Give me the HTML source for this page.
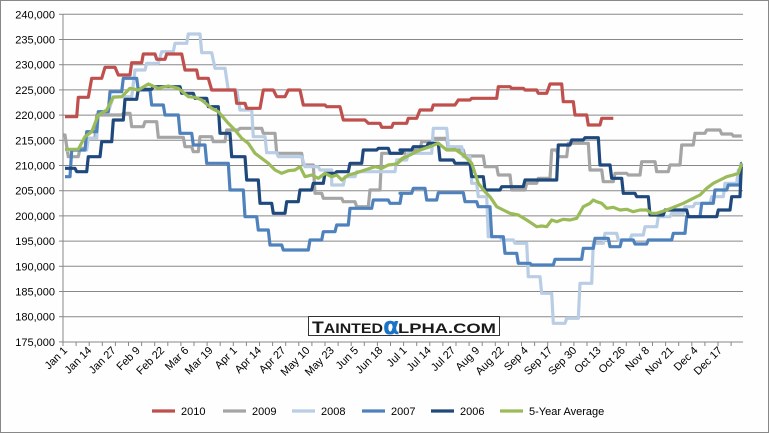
<!DOCTYPE html>
<html><head><meta charset="utf-8"><style>
body{margin:0;background:#fff;}
svg{display:block;font-family:"Liberation Sans",sans-serif;}
</style></head><body>
<svg id="s" width="769" height="433" xmlns="http://www.w3.org/2000/svg">
<rect x="0.5" y="0.5" width="768" height="432" fill="#fdfefd" stroke="#888"/>
<g id="grid"></g>
<g id="ser" fill="none" stroke-width="3.2" stroke-linejoin="round"></g>
<rect x="308.5" y="316.5" width="191" height="19" fill="#fff" stroke="#333"/>
<text x="312" y="333" font-size="14" font-weight="bold" fill="#1a1a1a" textLength="71" lengthAdjust="spacingAndGlyphs"><tspan font-size="17">T</tspan>AINTED</text>
<text x="383" y="334" font-size="24" font-weight="bold" fill="#1a73c8" font-family="DejaVu Sans,sans-serif">α</text>
<text x="398" y="333" font-size="14" font-weight="bold" fill="#1a1a1a" textLength="98" lengthAdjust="spacingAndGlyphs">LPHA.COM</text>
<g id="xl" font-size="11" fill="#000"></g>
<g font-size="11" fill="#000">
<line x1="152" y1="411" x2="175" y2="411" stroke="#c0504d" stroke-width="3.2"/><text x="181" y="415">2010</text>
<line x1="223" y1="411" x2="246" y2="411" stroke="#a5a5a5" stroke-width="3.2"/><text x="252" y="415">2009</text>
<line x1="292" y1="411" x2="315" y2="411" stroke="#b9cde5" stroke-width="3.2"/><text x="321" y="415">2008</text>
<line x1="362" y1="411" x2="385" y2="411" stroke="#4f81bd" stroke-width="3.2"/><text x="391" y="415">2007</text>
<line x1="431" y1="411" x2="454" y2="411" stroke="#1f497d" stroke-width="3.2"/><text x="460" y="415">2006</text>
<line x1="500" y1="411" x2="523" y2="411" stroke="#9bbb59" stroke-width="3.2"/><text x="529" y="415">5-Year Average</text>
</g>
</svg>
<script>
var NS="http://www.w3.org/2000/svg";
function el(t,a,p,txt){var e=document.createElementNS(NS,t);for(var k in a)e.setAttribute(k,a[k]);if(txt)e.textContent=txt;p.appendChild(e);return e;}
var g=document.getElementById('grid');
for(var i=0;i<=13;i++){var y=14.3+i*25.2;var v=240000-i*5000;
 if(i<13)el('line',{x1:63,x2:743,y1:y,y2:y,stroke:'#888','stroke-width':1},g);
 el('line',{x1:59,x2:63,y1:y,y2:y,stroke:'#888'},g);
 el('text',{x:55,y:y+4,'text-anchor':'end','font-size':11},g,v.toLocaleString('en-US'));}
el('line',{x1:63,x2:63,y1:14,y2:342,stroke:'#888'},g);
el('line',{x1:63,x2:743,y1:342,y2:342,stroke:'#888'},g);
for(var x=63;x<=744;x+=13.1)el('line',{x1:x,x2:x,y1:342,y2:346,stroke:'#888'},g);
var labs=["Jan 1","Jan 14","Jan 27","Feb 9","Feb 22","Mar 6","Mar 19","Apr 1","Apr 14","Apr 27","May 10","May 23","Jun 5","Jun 18","Jul 1","Jul 14","Jul 27","Aug 9","Aug 22","Sep 4","Sep 17","Sep 30","Oct 13","Oct 26","Nov 8","Nov 21","Dec 4","Dec 17"];
var xl=document.getElementById('xl');
labs.forEach(function(l,i){var x=68+i*24.25;el('text',{x:x,y:351,'text-anchor':'end',transform:'rotate(-45 '+x+' 351)'},xl,l);});
function conv(zx,zy,z2){return [(55+(zx+(z2?1035:0))/3).toFixed(1),(10+zy/3).toFixed(1)];}
function steps(a,b){var pts=[];function add(arr,z2){arr.forEach(function(s){var p1=conv(s[0],s[2],z2),p2=conv(s[1],s[2],z2);pts.push(p1.join(','));pts.push(p2.join(','));});}add(a,false);add(b,true);return pts.join(' ');}
function smooth(a,b){var pts=[];a.forEach(function(p){pts.push(conv(p[0],p[1],false).join(','));});b.forEach(function(p){pts.push(conv(p[0],p[1],true).join(','));});return pts.join(' ');}
var S=document.getElementById('ser');
function line(pts,c){el('polyline',{points:pts,stroke:c},S);}
line(steps([[25,30,375],[40,70,440],[75,95,415],[100,120,385],[125,200,315],[205,225,310],[230,265,350],[270,305,335],[310,385,382],[390,410,410],[415,430,425],[435,470,380],[475,510,395],[515,550,360],[555,620,355],[625,660,370],[665,740,430],[745,775,465],[780,800,550],[805,860,565],[865,900,575],[905,940,590],[945,975,540],[980,1050,430]],
[[0,60,420],[65,95,395],[100,140,385],[145,190,420],[195,250,438],[255,290,470],[295,330,495],[335,375,540],[380,410,520],[415,450,505],[455,470,420],[475,500,440],[505,540,400],[545,565,400],[570,605,480],[610,640,515],[645,680,490],[685,720,495],[725,765,455],[770,805,485],[810,840,465],[845,880,405],[885,915,370],[920,960,360],[965,995,372],[1000,1025,378]]),'#a5a5a5');
line(steps([[30,95,420],[100,125,385],[130,160,305],[175,230,260],[240,270,180],[275,310,160],[320,355,125],[360,395,100],[400,435,72],[440,470,128],[480,510,175],[520,545,240],[555,590,300],[595,630,380],[635,665,428],[670,740,440],[750,790,470],[795,830,480],[830,865,525],[870,900,500],[905,1020,485],[1025,1050,450]],
[[0,20,450],[25,95,430],[100,140,355],[145,185,410],[190,210,440],[215,230,520],[235,260,560],[265,300,680],[305,340,690],[345,380,700],[385,420,800],[425,455,850],[460,495,940],[500,535,925],[540,575,820],[580,610,700],[615,650,670],[655,690,690],[695,730,675],[735,770,650],[775,810,620],[815,850,610],[855,880,590],[885,930,580],[935,970,560],[975,1010,520],[1015,1025,480]]),'#b9cde5');
line(steps([[30,45,500],[50,90,420],[95,125,365],[130,160,305],[165,200,245],[205,245,205],[250,285,240],[290,325,285],[330,370,315],[375,410,370],[415,450,405],[455,520,460],[525,565,540],[570,605,620],[610,640,660],[645,680,705],[685,760,720],[765,800,690],[805,840,665],[845,880,645],[885,950,595],[955,1000,570],[1005,1035,580],[1040,1050,550]],
[[0,35,550],[40,75,535],[80,110,570],[115,190,548],[195,230,575],[235,270,590],[275,310,680],[315,350,730],[355,390,760],[395,460,765],[465,545,748],[550,580,715],[585,625,685],[630,660,710],[665,700,690],[705,740,702],[745,815,690],[820,855,670],[860,900,620],[905,940,580],[945,980,540],[985,1020,525],[1024,1026,460]]),'#4f81bd');
line(steps([[30,60,475],[65,95,485],[100,135,440],[140,170,395],[175,205,330],[210,245,268],[250,290,238],[295,330,230],[335,375,230],[380,415,250],[420,455,265],[460,490,290],[495,525,370],[530,570,440],[575,610,510],[615,650,580],[655,690,610],[695,730,575],[735,770,540],[775,805,520],[810,840,490],[845,880,485],[885,920,460],[925,965,420],[970,1000,415],[1005,1040,430],[1045,1050,420]],
[[0,35,420],[40,80,410],[85,115,400],[120,160,450],[165,210,460],[215,250,500],[255,300,540],[305,370,530],[375,470,510],[475,510,405],[515,550,390],[555,595,383],[600,630,465],[635,665,505],[670,705,550],[710,745,560],[750,790,615],[795,860,600],[865,950,620],[955,990,600],[995,1020,560],[1024,1026,470]]),'#1f497d');
line(steps([[30,65,320],[70,100,262],[110,140,205],[150,180,172],[190,225,195],[230,260,158],[265,300,132],[305,330,148],[335,380,132],[390,425,180],[430,460,205],[470,540,240],[545,570,280],[575,615,295],[625,655,240],[665,690,260],[700,735,240],[745,810,285],[815,855,290],[865,930,330],[940,975,340],[980,1010,352],[1015,1050,340]],
[[0,20,340],[25,50,325],[60,95,300],[100,165,285],[175,210,270],[215,290,265],[295,330,230],[335,370,235],[375,410,240],[415,440,250],[450,485,222],[490,520,275],[525,560,315],[565,600,345],[605,640,325]]),'#c0504d');
line(smooth([[30,418],[70,418],[90,380],[110,365],[130,315],[155,300],[175,262],[200,260],[225,235],[250,240],[280,222],[310,235],[340,228],[370,235],[400,260],[420,262],[440,270],[470,295],[490,305],[520,340],[540,360],[560,385],[580,400],[600,430],[620,445],[640,460],[660,480],[680,490],[700,482],[720,480],[735,470],[750,500],[770,495],[790,505],[810,490],[830,500],[845,495],[860,510],[880,495],[900,490],[930,480],[960,470],[980,475],[1000,465],[1025,462],[1050,440]],
[[0,450],[30,435],[60,420],[90,410],[115,400],[140,420],[165,418],[190,435],[215,460],[235,520],[255,545],[270,560],[290,590],[310,600],[330,610],[355,615],[380,630],[395,640],[410,650],[425,648],[440,650],[455,630],[470,635],[490,628],[510,630],[530,625],[550,590],[570,580],[580,570],[590,575],[605,580],[620,595],[640,592],[660,600],[680,598],[700,605],[720,600],[740,600],[755,610],[770,610],[800,600],[825,590],[850,580],[880,565],[900,555],[920,535],[940,520],[960,510],[980,500],[1000,495],[1015,490],[1025,460]]),'#9bbb59');
</script>
</body></html>
